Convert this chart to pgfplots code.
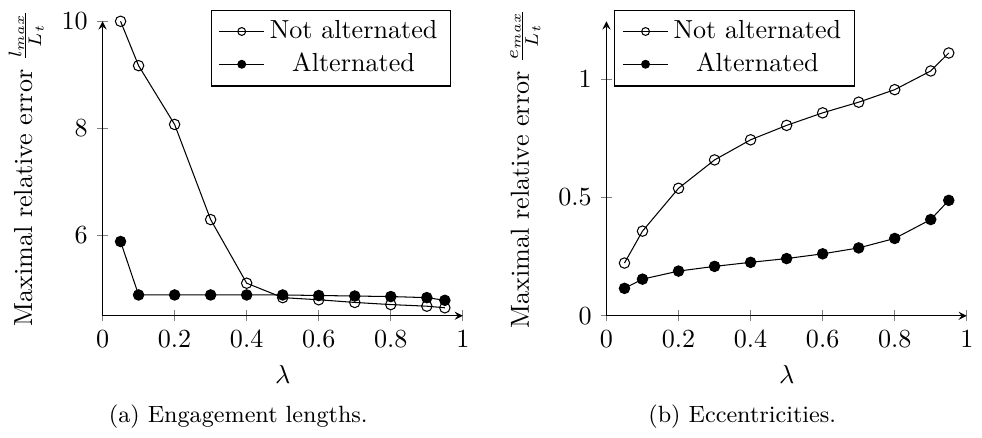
\documentclass[border=0pt]{standalone}
\usepackage{pgfplots}
\pgfplotsset{compat=1.18}

\pgfplotsset{
  errplot/.style={
    scale only axis,
    width=138pt, height=112.8pt,
    axis lines=left,
    xmin=0, xmax=1,
    xtick={0,0.2,0.4,0.6,0.8,1},
    xlabel={$\lambda$},
    tick style={gray, thin},
    legend cell align=center,
    legend image post style={mark size=1.5pt},
  },
  notalt/.style={black, mark=o, mark options={fill=white}, mark size=2pt},
  alt/.style={black, mark=*, mark size=2pt},
}

\begin{document}
\begin{tikzpicture}
  % (a) engagement lengths
  \begin{axis}[errplot, name=a,
      ymin=4.49, ymax=10,
      ytick={6,8,10},
      ylabel={Maximal relative error $\frac{l_{max}}{L_t}$},
      legend style={at={(0.967,1.04)}, anchor=north east},
    ]
    \addplot[notalt] coordinates {(0.05,10.0) (0.1,9.17) (0.2,8.07) (0.3,6.29) (0.4,5.10) (0.5,4.83) (0.6,4.79) (0.7,4.74) (0.8,4.70) (0.9,4.67) (0.95,4.64)};
    \addplot[alt] coordinates {(0.05,5.88) (0.1,4.88) (0.2,4.88) (0.3,4.88) (0.4,4.88) (0.5,4.88) (0.6,4.87) (0.7,4.86) (0.8,4.85) (0.9,4.83) (0.95,4.78)};
    \legend{Not alternated, Alternated}
  \end{axis}
  \node[font=\small, anchor=base] at ([xshift=-17pt, yshift=-41pt]a.south) {(a) Engagement lengths.};

  % (b) eccentricities
  \begin{axis}[errplot, name=b, at={(193pt,0)},
      ymin=0, ymax=1.245,
      ytick={0,0.5,1},
      ylabel={Maximal relative error $\frac{e_{max}}{L_t}$},
      legend style={at={(0.022,1.04)}, anchor=north west},
    ]
    \addplot[notalt] coordinates {(0.05,0.223) (0.1,0.358) (0.2,0.539) (0.3,0.659) (0.4,0.744) (0.5,0.805) (0.6,0.858) (0.7,0.903) (0.8,0.956) (0.9,1.035) (0.95,1.111)};
    \addplot[alt] coordinates {(0.05,0.116) (0.1,0.155) (0.2,0.189) (0.3,0.209) (0.4,0.226) (0.5,0.242) (0.6,0.262) (0.7,0.287) (0.8,0.327) (0.9,0.407) (0.95,0.488)};
    \legend{Not alternated, Alternated}
  \end{axis}
  \node[font=\small, anchor=base] at ([xshift=-17pt, yshift=-41pt]b.south) {(b) Eccentricities.};
\end{tikzpicture}
\end{document}
